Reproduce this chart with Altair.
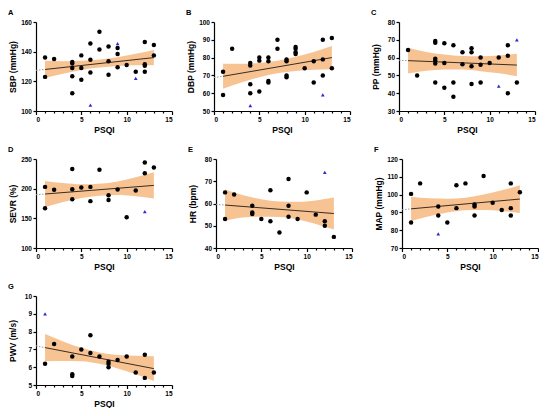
import altair as alt
import pandas as pd

FONT = "Liberation Sans"
BAND_X = [1, 3, 5, 7, 9, 11, 13]
LINE_X = [1, 13]
DOT_X = [0, 1]

# Panel A: SBP
A_X = [1, 1, 2, 4, 4, 4, 4, 4, 5, 5, 5, 6, 6, 6, 7, 7, 8, 8, 8, 9, 9, 9, 10, 11, 12, 12, 12, 12, 13, 13]
A_Y = [136, 123, 135, 133, 132, 129, 123.5, 112, 137.5, 129, 121, 145.5, 134.5, 126, 153.5, 141.5,
       143.5, 133.5, 124.5, 142.5, 138.5, 129.5, 131, 126.5, 146.5, 131.5, 130.5, 126.5, 144.5, 137.5]
A_TX = [6, 9, 11]
A_TY = [104, 145.5, 122]
A_LINE = [128, 136]
A_DOT = [127.4, 128]
A_LO = [122.2, 125.1, 127.6, 129.3, 130.3, 130.8, 130.8]
A_HI = [133.8, 133.5, 133.8, 134.7, 136.3, 138.6, 141.2]

# Panel B: DBP
B_X = [1, 1, 2, 4, 4, 4, 4, 5, 5, 5, 6, 6, 6, 6, 7, 7, 8, 8, 8, 8, 9, 9, 9, 9, 10, 11, 11, 12, 12, 12, 13, 13]
B_Y = [72, 59, 85, 77, 75.5, 65, 60, 80, 78.3, 61, 80, 78, 66.8, 66, 90, 85, 79, 78, 70, 69,
       86, 85, 83, 82, 74, 78, 66, 90, 79, 70, 91, 74]
B_TX = [4, 12]
B_TY = [53, 59]
B_LINE = [69.5, 80]
B_DOT = [68.8, 69.5]
B_LO = [62.5, 66.0, 69.0, 71.2, 72.5, 73.2, 73.5]
B_HI = [76.5, 76.5, 77.0, 78.2, 80.5, 83.2, 86.5]

# Panel C: PP
C_X = [1, 2, 4, 4, 4, 4, 4, 4, 5, 5, 5, 6, 6, 6, 7, 7, 8, 8, 8, 8, 9, 9, 9, 10, 11, 12, 12, 12, 13]
C_Y = [64.3, 50, 69.3, 68.3, 59.3, 58.3, 56.7, 46, 68, 57, 43, 67, 46, 38, 63, 56.3,
       65.2, 63, 55.2, 45.2, 60, 56, 46, 57, 60, 67, 61, 40, 46]
C_TX = [11, 13]
C_TY = [44, 70]
C_LINE = [58.3, 55.8]
C_DOT = [58.5, 58.3]
C_LO = [51.1, 52.6, 53.3, 53.3, 52.4, 51.2, 49.5]
C_HI = [65.5, 63.2, 61.7, 60.9, 60.8, 61.2, 62.1]

# Panel D: SEVR
D_X = [1, 1, 2, 4, 4, 4, 5, 6, 6, 7, 8, 8, 9, 10, 11, 12, 12, 13]
D_Y = [203, 167, 198, 233, 199, 182, 202, 203, 179, 232, 189, 181, 198.5, 152, 197, 244, 226, 235.5]
D_TX = [12]
D_TY = [161.5]
D_LINE = [191, 205.5]
D_DOT = [189.8, 191]
D_LO = [169, 177.4, 184.3, 188.2, 189.2, 187.1, 183.5]
D_HI = [213, 209.4, 207.3, 208.2, 212.2, 219.1, 227.5]

# Panel E: HR
E_X = [1, 1, 2, 4, 4, 4, 5, 6, 6, 7, 8, 8, 8, 9, 10, 11, 12, 12, 13]
E_Y = [65, 53, 64, 59, 56, 55.3, 53, 66, 52, 47, 71, 59, 54, 53, 65, 55, 52, 50, 45]
E_TX = [12]
E_TY = [74]
E_LINE = [59.3, 55.5]
E_DOT = [59.6, 59.3]
E_LO = [52.3, 53.7, 54.1, 53.9, 52.8, 50.8, 48.3]
E_HI = [66.3, 63.7, 61.9, 60.9, 60.8, 61.4, 62.7]

# Panel F: MAP
F_X = [1, 1, 2, 4, 4, 5, 6, 6, 7, 8, 8, 8, 9, 10, 11, 12, 12, 12, 13]
F_Y = [100.4, 84.3, 106.3, 93.3, 88.3, 84.3, 105.2, 92.4, 106.3, 94.4, 93.3, 88.3, 110.4, 95.4,
       91.3, 106.3, 92.4, 88.3, 101.3]
F_TX = [4]
F_TY = [78]
F_LINE = [92, 97.5]
F_DOT = [91.5, 92]
F_LO = [85.2, 87.9, 89.9, 91.2, 91.4, 90.8, 89.7]
F_HI = [98.8, 97.9, 97.7, 98.3, 100.0, 102.4, 105.3]

# Panel G: PWV
G_X = [1, 2, 4, 4, 4, 5, 6, 6, 7, 8, 8, 8, 9, 10, 11, 12, 12, 13]
G_Y = [6.2, 7.3, 6.6, 5.6, 5.5, 7.0, 7.8, 6.8, 6.6, 6.3, 6.2, 6.0, 6.4, 6.6, 5.7, 6.7, 5.4, 5.7]
G_TX = [1]
G_TY = [9.0]
G_LINE = [7.1, 5.92]
G_DOT = [7.2, 7.1]
G_LO = [6.33, 6.35, 6.33, 6.19, 5.93, 5.60, 5.22]
G_HI = [7.87, 7.45, 7.09, 6.83, 6.69, 6.64, 6.62]

PANELS = {
    "A": ("SBP (mmHg)", [100, 160], [100, 120, 140, 160], A_X, A_Y, A_TX, A_TY, A_LINE, A_DOT, A_LO, A_HI),
    "B": ("DBP (mmHg)", [50, 100], [50, 60, 70, 80, 90, 100], B_X, B_Y, B_TX, B_TY, B_LINE, B_DOT, B_LO, B_HI),
    "C": ("PP (mmHg)", [30, 80], [30, 40, 50, 60, 70, 80], C_X, C_Y, C_TX, C_TY, C_LINE, C_DOT, C_LO, C_HI),
    "D": ("SEVR (%)", [100, 250], [100, 150, 200, 250], D_X, D_Y, D_TX, D_TY, D_LINE, D_DOT, D_LO, D_HI),
    "E": ("HR (bpm)", [40, 80], [40, 50, 60, 70, 80], E_X, E_Y, E_TX, E_TY, E_LINE, E_DOT, E_LO, E_HI),
    "F": ("MAP (mmHg)", [70, 120], [70, 80, 90, 100, 110, 120], F_X, F_Y, F_TX, F_TY, F_LINE, F_DOT, F_LO, F_HI),
    "G": ("PWV (m/s)", [5, 10], [5, 6, 7, 8, 9, 10], G_X, G_Y, G_TX, G_TY, G_LINE, G_DOT, G_LO, G_HI),
}

W, H = 136, 89


def panel(letter):
    ylab, dom, yticks, xs, ys, txs, tys, line, dot, lo, hi = PANELS[letter]
    xaxis = alt.Axis(
        title="PSQI", values=list(range(16)),
        labelExpr="datum.value % 5 === 0 ? datum.label : ''",
        tickSize={"condition": {"test": "datum.value % 5 === 0", "value": 3.5}, "value": 2},
        labelPadding=1.5, titlePadding=3, grid=False,
    )
    yaxis = alt.Axis(
        title=ylab, values=yticks, tickSize=3, labelPadding=1.5, grid=False,
        minExtent=16, maxExtent=16, titlePadding=3,
    )
    xs_ = alt.Scale(domain=[0, 15], nice=False, zero=False)
    ys_ = alt.Scale(domain=dom, nice=False, zero=False)

    band_df = pd.DataFrame({"x": BAND_X, "lo": lo, "hi": hi})
    line_df = pd.DataFrame({"x": LINE_X, "y": line})
    dot_df = pd.DataFrame({"x": DOT_X, "y": dot})
    pts_df = pd.DataFrame({"x": xs, "y": ys})
    tri_df = pd.DataFrame({"x": txs, "y": tys})

    band = alt.Chart(band_df).mark_area(color="#f7c393", interpolate="monotone").encode(
        x=alt.X("x:Q", scale=xs_, axis=xaxis),
        y=alt.Y("lo:Q", scale=ys_, axis=yaxis),
        y2="hi:Q",
    )
    fit = alt.Chart(line_df).mark_line(color="#3a2c20", strokeWidth=1).encode(
        x=alt.X("x:Q", scale=xs_, axis=xaxis), y=alt.Y("y:Q", scale=ys_, axis=yaxis)
    )
    ext = alt.Chart(dot_df).mark_line(color="#9a9a9a", strokeWidth=1, strokeDash=[1.5, 1.5]).encode(
        x=alt.X("x:Q", scale=xs_, axis=xaxis), y=alt.Y("y:Q", scale=ys_, axis=yaxis)
    )
    pts = alt.Chart(pts_df).mark_point(filled=True, color="black", size=20, opacity=1, shape="circle").encode(
        x=alt.X("x:Q", scale=xs_, axis=xaxis), y=alt.Y("y:Q", scale=ys_, axis=yaxis)
    )
    tri = alt.Chart(tri_df).mark_point(filled=True, color="#2b2bd0", size=14, opacity=1, shape="triangle-up").encode(
        x=alt.X("x:Q", scale=xs_, axis=xaxis), y=alt.Y("y:Q", scale=ys_, axis=yaxis)
    )
    return alt.layer(band, ext, fit, pts, tri).properties(
        width=W, height=H,
        title=alt.TitleParams(letter, anchor="start", frame="bounds", fontSize=7.5,
                              fontWeight="bold", font=FONT, color="black", offset=3),
    )


row1 = alt.hconcat(alt.hconcat(panel("A"), panel("B"), spacing=13), panel("C"), spacing=20)
row2 = alt.hconcat(alt.hconcat(panel("D"), panel("E"), spacing=15), panel("F"), spacing=21)
row3 = alt.hconcat(panel("G"))

chart = alt.vconcat(row1, row2, row3, spacing=11).properties(padding=0).configure_view(
    stroke=None
).configure_axis(
    domainColor="black", domainWidth=1.2, tickColor="black", tickWidth=1.2,
    labelFont=FONT, labelFontWeight="bold", labelFontSize=6.5, labelColor="black",
    titleFont=FONT, titleFontWeight="bold", titleFontSize=8.5, titleColor="black",
)

chart.save("out.html", embed_options={"renderer": "svg", "actions": False})
